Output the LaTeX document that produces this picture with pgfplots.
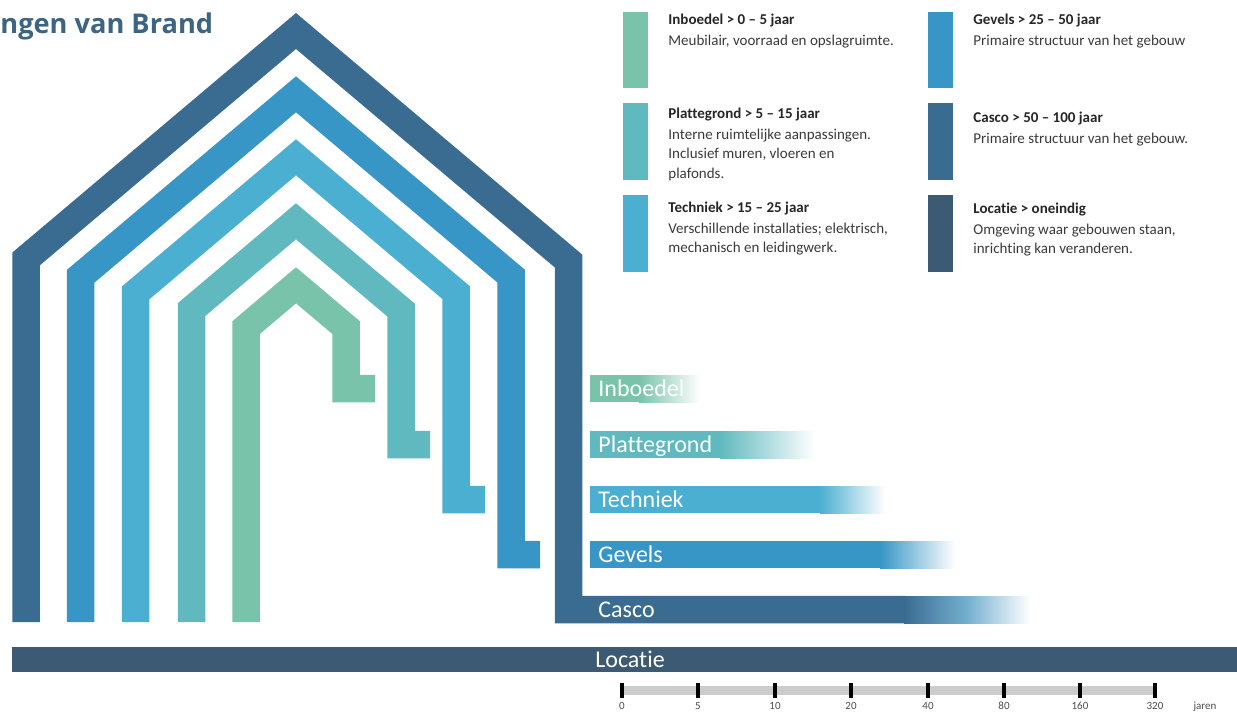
\documentclass[border=0pt]{standalone}
\usepackage{fontspec}
\setmainfont{Carlito}[Ligatures=NoCommon]
\newfontfamily\opensans{Open Sans}
\usepackage{pgfplots}
\pgfplotsset{compat=1.18}

\definecolor{cInb}{HTML}{78C3AA}
\definecolor{cPla}{HTML}{5FB9BE}
\definecolor{cTec}{HTML}{4BAFD2}
\definecolor{cGev}{HTML}{3796C6}
\definecolor{cCas}{HTML}{3A6C91}
\definecolor{cLoc}{HTML}{3C5A73}
\definecolor{cTitle}{HTML}{3D6481}
\definecolor{cTxt}{HTML}{3A3A3A}

\pgfplotsset{
  house/.style={line width=13.75pt, line join=miter, line cap=butt, mark=none},
  box/.style={draw=none, fill=#1, mark=none},
  fade/.style={draw=none, left color=#1, right color=white, mark=none},
}

\begin{document}
\begin{tikzpicture}
\begin{axis}[
  x=0.5pt, y=0.5pt,
  xmin=0, xmax=1237, ymin=0, ymax=713,
  y dir=reverse,
  hide axis, clip=false,
]
  % huizen (pixelcoordinaten, hartlijn)
  \addplot[house, cCas] coordinates {(26,622) (26,259) (296,31) (568.5,261) (568.5,609.5) (905,609.5)};
  \addplot[house, cGev] coordinates {(80.5,622) (80.5,276.4) (296,94.3) (511,276) (511,554.5) (540,554.5)};
  \addplot[house, cTec] coordinates {(135.5,622) (135.5,293) (296,157.3) (456,292.5) (456,499.5) (485,499.5)};
  \addplot[house, cPla] coordinates {(191.5,622) (191.5,309.6) (296,221.3) (401,310) (401,444.5) (430,444.5)};
  \addplot[house, cInb] coordinates {(246,622) (246,327.7) (296,285.3) (346,327.5) (346,388.5) (375,388.5)};

  % levensduurbalken
  \addplot[box=cInb] coordinates {(590,375) (640,375) (640,402) (590,402)} -- cycle;
  \addplot[fade=cInb] coordinates {(639,375) (700,375) (700,402) (639,402)} -- cycle;
  \addplot[box=cPla] coordinates {(590,431) (721,431) (721,458) (590,458)} -- cycle;
  \addplot[fade=cPla] coordinates {(720,431) (815,431) (815,458) (720,458)} -- cycle;
  \addplot[box=cTec] coordinates {(590,486) (821,486) (821,513) (590,513)} -- cycle;
  \addplot[fade=cTec] coordinates {(820,486) (885,486) (885,513) (820,513)} -- cycle;
  \addplot[box=cGev] coordinates {(590,541) (881,541) (881,568) (590,568)} -- cycle;
  \addplot[fade=cGev] coordinates {(880,541) (955,541) (955,568) (880,568)} -- cycle;
  \addplot[draw=none, mark=none, left color=cCas, right color=white, middle color=cGev!80!cCas!70!white]
    coordinates {(904,596) (1030,596) (1030,623) (904,623)} -- cycle;
  \addplot[box=cLoc] coordinates {(12,647) (1237,647) (1237,672) (12,672)} -- cycle;

  % legenda
  \addplot[box=cInb] coordinates {(623,12) (648,12) (648,88) (623,88)} -- cycle;
  \addplot[box=cPla] coordinates {(623,103) (648,103) (648,180) (623,180)} -- cycle;
  \addplot[box=cTec] coordinates {(623,195) (648,195) (648,272) (623,272)} -- cycle;
  \addplot[box=cGev] coordinates {(928,12) (953,12) (953,88) (928,88)} -- cycle;
  \addplot[box=cCas] coordinates {(928,103) (953,103) (953,180) (928,180)} -- cycle;
  \addplot[box=cLoc] coordinates {(928,195) (953,195) (953,272) (928,272)} -- cycle;

  % tijdschaal
  \addplot[box=black!20] coordinates {(622,686) (1155,686) (1155,695) (622,695)} -- cycle;
  \addplot[only marks, mark=|, mark size=3.75pt, mark options={line width=2pt, black}]
    coordinates {(622,690.5) (698,690.5) (775,690.5) (851,690.5) (928,690.5) (1004,690.5) (1080,690.5) (1155,690.5)};

  % teksten
  \node[anchor=base west, inner sep=0, text=cTitle, font=\opensans\bfseries\fontsize{13.6}{13.6}\selectfont] at (0,33.5) {ngen van Brand};

  \tikzset{bl/.style={anchor=base west, inner sep=0, text=white, font=\fontsize{12}{12}\selectfont}}
  \node[bl] at (598,396) {Inboedel};
  \node[bl] at (598,452) {Plattegrond};
  \node[bl] at (598,507) {Techniek};
  \node[bl] at (598,562) {Gevels};
  \node[bl] at (598,617) {Casco};
  \node[anchor=base, inner sep=0, text=white, font=\fontsize{12}{12}\selectfont] at (630,667) {Locatie};

  \tikzset{lt/.style={anchor=base west, inner sep=0, text=black!85, font=\bfseries\fontsize{7.5}{7.5}\selectfont},
           ld/.style={anchor=base west, inner sep=0, text=cTxt, font=\fontsize{7.5}{7.5}\selectfont}}
  \node[lt] at (668,24) {Inboedel > 0 – 5 jaar};
  \node[ld] at (668,45) {Meubilair, voorraad en opslagruimte.};
  \node[lt] at (668,118) {Plattegrond > 5 – 15 jaar};
  \node[ld] at (668,139) {Interne ruimtelijke aanpassingen.};
  \node[ld] at (668,158.5) {Inclusief muren, vloeren en};
  \node[ld] at (668,178) {plafonds.};
  \node[lt] at (668,212) {Techniek > 15 – 25 jaar};
  \node[ld] at (668,233) {Verschillende installaties; elektrisch,};
  \node[ld] at (668,252.5) {mechanisch en leidingwerk.};
  \node[lt] at (973,24) {Gevels > 25 – 50 jaar};
  \node[ld] at (973,45) {Primaire structuur van het gebouw};
  \node[lt] at (973,122) {Casco > 50 – 100 jaar};
  \node[ld] at (973,143) {Primaire structuur van het gebouw.};
  \node[lt] at (973,213) {Locatie > oneindig};
  \node[ld] at (973,234) {Omgeving waar gebouwen staan,};
  \node[ld] at (973,253.5) {inrichting kan veranderen.};

  \tikzset{sl/.style={anchor=base, inner sep=0, text=black!70, font=\fontsize{5.5}{5.5}\selectfont}}
  \node[sl] at (622,709) {0};
  \node[sl] at (698,709) {5};
  \node[sl] at (775,709) {10};
  \node[sl] at (851,709) {20};
  \node[sl] at (928,709) {40};
  \node[sl] at (1004,709) {80};
  \node[sl] at (1080,709) {160};
  \node[sl] at (1155,709) {320};
  \node[sl] at (1205,709) {jaren};
\end{axis}
\path (current axis.south west) rectangle (current axis.north east);
\end{tikzpicture}
\end{document}
